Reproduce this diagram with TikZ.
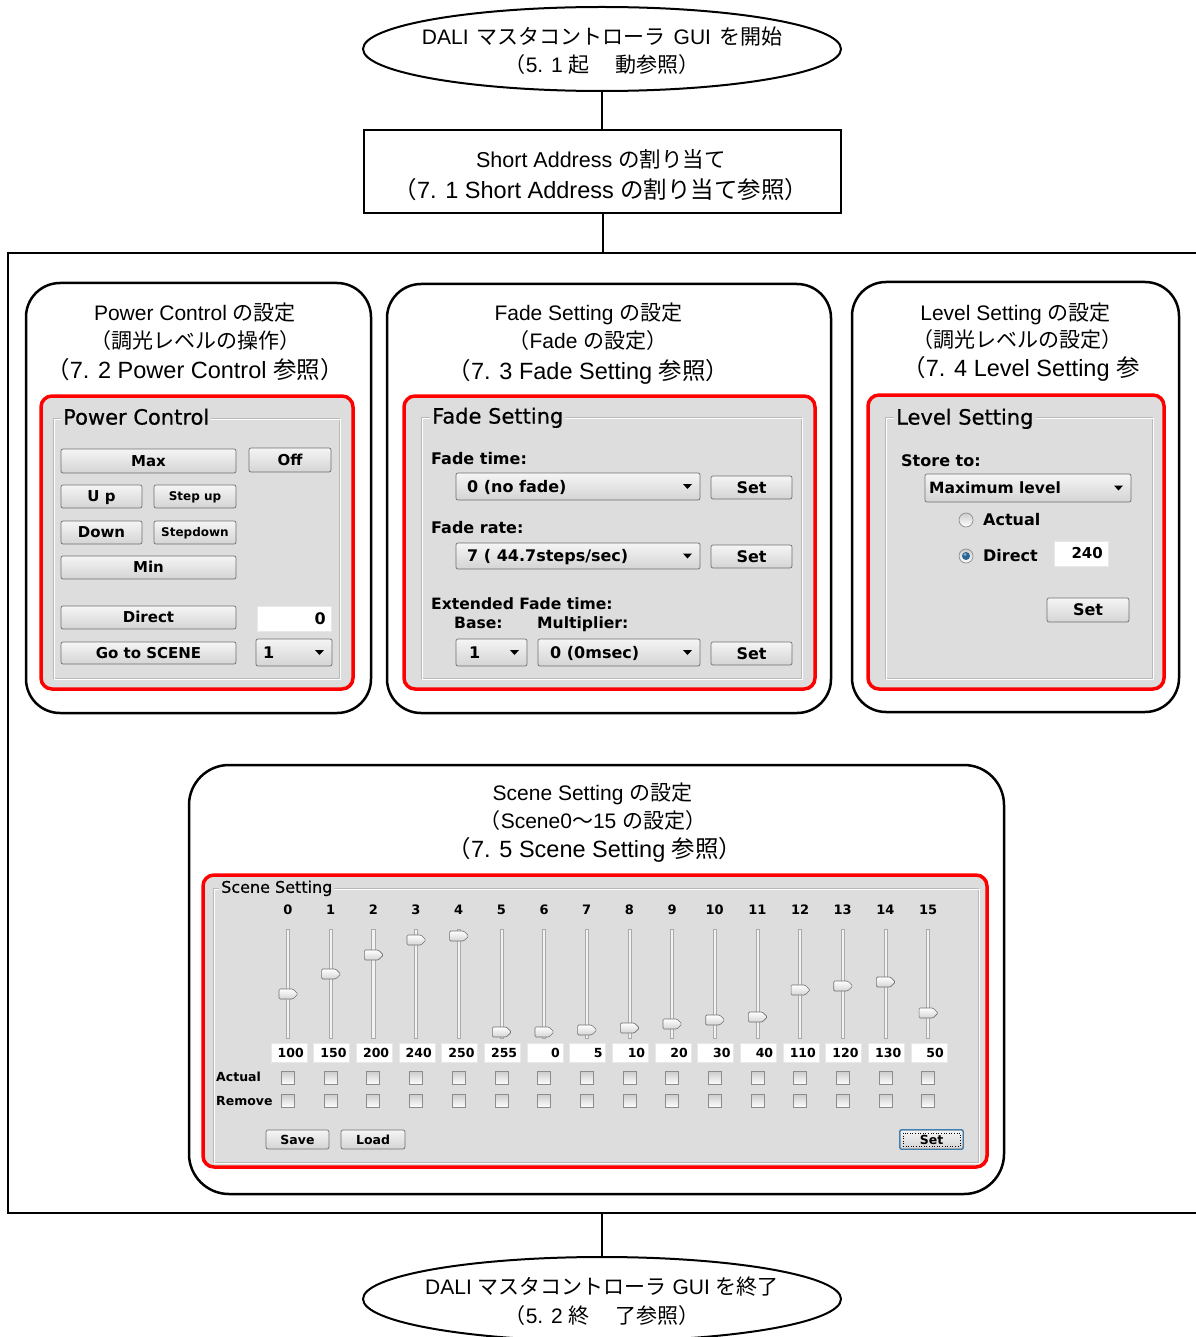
\documentclass[tikz,border=0pt]{standalone}
\usepackage{fontspec}
\setmainfont{Liberation Sans}
\newfontfamily\jpf{Noto Sans CJK JP}
\newfontfamily\uif{DejaVu Sans}
\newfontfamily\uitf{DejaVu Sans}[FakeBold=0.6]
\usetikzlibrary{shapes.geometric}
\newcommand\J[1]{{\jpf #1}}
\definecolor{uigray}{RGB}{221,221,221}
\definecolor{btnedge}{RGB}{112,112,112}
\definecolor{btntop}{RGB}{245,245,245}
\definecolor{btnbot}{RGB}{212,212,212}
\definecolor{framedark}{RGB}{185,185,185}
\definecolor{focusblue}{RGB}{60,127,177}
\definecolor{radioblue}{RGB}{40,100,150}
\definecolor{trackedge}{RGB}{170,170,170}
\definecolor{trackfill}{RGB}{242,242,242}
\definecolor{checkedge}{RGB}{140,140,140}
\definecolor{checktop}{RGB}{205,205,205}
\definecolor{fieldedge}{RGB}{232,232,232}
\tikzset{
  flow/.style={draw=black, line width=2pt},
  termnode/.style={ellipse, draw, line width=2pt, minimum width=478pt, minimum height=84pt, inner sep=0pt},
  procnode/.style={rectangle, draw, line width=2pt, minimum width=477pt, minimum height=83pt, inner sep=0pt},
  mainframe/.style={rectangle, draw, line width=2pt, inner sep=0pt},
  panelbox/.style={rectangle, draw, line width=2.5pt, rounded corners=34pt, inner sep=0pt},
  redbox/.style={rectangle, draw=red, line width=3.5pt, fill=uigray, rounded corners=11pt, inner sep=0pt},
  uibtn/.style={rectangle, draw=btnedge, line width=0.7pt, top color=btntop, bottom color=btnbot, rounded corners=2pt, inner sep=0pt},
  uicombo/.style={uibtn},
  uifield/.style={rectangle, fill=white, draw=fieldedge, line width=0.5pt, inner sep=0pt},
  uicheck/.style={rectangle, draw=checkedge, line width=0.7pt, top color=checktop, bottom color=white, minimum size=13pt, inner sep=0pt},
  uiradio/.style={circle, draw=checkedge, line width=0.7pt, top color=checktop, bottom color=white, minimum size=14pt, inner sep=0pt},
  uitrack/.style={draw=trackedge, fill=trackfill, line width=0.5pt},
  uithumb/.style={draw=btnedge, line width=0.6pt, top color=white, bottom color=btnbot, rounded corners=1.2pt},
}
% title text: name x y size text
\newcommand\ttl[5]{%
  \pgfmathsetlengthmacro\uith{0.72*#4pt}%
  \node[inner sep=0pt, text height=\uith, text depth=0pt, font=\fontsize{#4}{#4}\selectfont] (#1) at ({#2},{#3}) {#5};}
% ui bold label: name x y size anchor text
\newcommand\uiLabel[6]{%
  \pgfmathsetlengthmacro\uith{0.72*#4pt}%
  \node[inner sep=0pt, text height=\uith, text depth=0pt, anchor=#5, font=\uif\bfseries\fontsize{#4}{#4}\selectfont] (#1) at ({#2},{#3}) {#6};}
% group title: name x y size text
\newcommand\uiTitle[5]{%
  \pgfmathsetlengthmacro\uith{0.72*#4pt}%
  \node[inner xsep=2pt, inner ysep=0pt, fill=uigray, text height=\uith, text depth=0pt, anchor=west, font=\uitf\fontsize{#4}{#4}\selectfont] (#1) at ({#2},{#3}) {#5};}
% button: name x1 y1 x2 y2 size text
\newcommand\uiButton[7]{%
  \pgfmathsetlengthmacro\uith{0.72*#6pt}%
  \pgfmathsetlengthmacro\uiw{(#4-#2)*1pt}%
  \pgfmathsetlengthmacro\uih{(#5-#3)*1pt}%
  \node[uibtn, minimum width=\uiw, minimum height=\uih, text height=\uith, text depth=0pt, font=\uif\bfseries\fontsize{#6}{#6}\selectfont] (#1) at ({(#2+#4)/2},{(#3+#5)/2}) {#7};}
% combo: name x1 y1 x2 y2 size text offset
\newcommand\uiCombo[8]{%
  \pgfmathsetlengthmacro\uiw{(#4-#2)*1pt}%
  \pgfmathsetlengthmacro\uih{(#5-#3)*1pt}%
  \node[uicombo, minimum width=\uiw, minimum height=\uih] (#1) at ({(#2+#4)/2},{(#3+#5)/2}) {};%
  \uiLabel{#1t}{#2+#8}{(#3+#5)/2}{#6}{west}{#7}%
  \fill ({#4-17},{(#3+#5)/2-2.5}) -- ({#4-8},{(#3+#5)/2-2.5}) -- ({#4-12.5},{(#3+#5)/2+2.5}) -- cycle;}
% field: name x1 y1 x2 y2 size text
\newcommand\uiField[7]{%
  \pgfmathsetlengthmacro\uiw{(#4-#2)*1pt}%
  \pgfmathsetlengthmacro\uih{(#5-#3)*1pt}%
  \node[uifield, minimum width=\uiw, minimum height=\uih] (#1) at ({(#2+#4)/2},{(#3+#5)/2}) {};%
  \uiLabel{#1t}{#4-5}{(#3+#5)/2}{#6}{east}{#7}}
% group frame
\newcommand\uiFrame[4]{%
  \draw[framedark, line width=0.8pt] (#1,#2) rectangle (#3,#4);
  \draw[white, line width=0.8pt] ({#1+1},{#2+1}) rectangle ({#3+1},{#4+1});}
\begin{document}
\begin{tikzpicture}[x=1pt,y=-1pt]
\useasboundingbox (0,0) rectangle (1195,1337);
\fill[white] (0,0) rectangle (1195,1337);

% ---------- flow ----------
\node[termnode] (start) at (602,49) {};
\ttl{st1}{602}{37}{21}{DALI\hspace{8pt}\J{マスタコントローラ}\hspace{8pt}GUI\hspace{8pt}\J{を開始}}
\ttl{st2}{602}{65}{21}{\J{（}5. 1 \J{起　 動参照）}}

\node[procnode] (sa) at (602.5,171.5) {};
\ttl{sa1}{601}{160}{21.5}{Short Address \J{の割り当て}}
\ttl{sa2}{601}{190}{23.5}{\J{（}7. 1 Short Address \J{の割り当て参照）}}

\node[mainframe, minimum width=1202pt, minimum height=960pt] (mainbox) at (609,733) {};

\node[termnode] (endn) at (602,1299) {};
\ttl{en1}{602}{1287}{21}{DALI \J{マスタコントローラ} GUI \J{を終了}}
\ttl{en2}{602}{1316}{21}{\J{（}5. 2 \J{終　 了参照）}}

\draw[flow] (start.south) -- (start.south |- sa.north);
\draw[flow] (sa.south) -- (sa.south |- mainbox.north);
\draw[flow] (endn.north |- mainbox.south) -- (endn.north);

% ---------- Power Control ----------
\node[panelbox, minimum width=345pt, minimum height=430pt] (pcp) at (198.5,498) {};
\ttl{pct1}{195}{313}{21}{Power Control \J{の設定}}
\ttl{pct2}{195}{341}{21}{\J{（調光レベルの操作）}}
\ttl{pct3}{195}{370}{23.5}{\J{（}7. 2 Power Control \J{参照）}}
\node[redbox, minimum width=312pt, minimum height=293pt] (pcr) at (197,542.5) {};
\uiFrame{53}{418}{339}{678}
\uiTitle{pctitle}{61}{417}{21}{Power Control}
\uiButton{bmax}{61}{449}{236}{473}{15}{Max}
\uiButton{boff}{249}{448}{331}{472}{15}{Off}
\uiButton{bup}{61}{485}{142}{508}{15}{U p}
\uiButton{bsup}{154}{485}{236}{508}{12}{Step up}
\uiButton{bdown}{61}{521}{142}{544}{15}{Down}
\uiButton{bsdown}{154}{521}{236}{544}{12}{Stepdown}
\uiButton{bmin}{61}{556}{236}{579}{15}{Min}
\uiButton{bdirect}{61}{606}{236}{629}{15}{Direct}
\uiField{fdirect}{257}{606}{331}{631}{16}{0}
\uiButton{bgo}{61}{642}{236}{664}{15}{Go to SCENE}
\uiCombo{cgo}{256}{639}{332}{666}{16}{1}{7}

% ---------- Fade Setting ----------
\node[panelbox, minimum width=444pt, minimum height=429pt] (fsp) at (609,498.5) {};
\ttl{fst1}{588.5}{313}{21}{Fade Setting \J{の設定}}
\ttl{fst2}{588}{341}{21}{\J{（}Fade \J{の設定）}}
\ttl{fst3}{588.5}{371}{23.5}{\J{（}7. 3 Fade Setting \J{参照）}}
\node[redbox, minimum width=411pt, minimum height=293pt] (fsr) at (609.5,542.5) {};
\uiFrame{421}{417}{801}{678}
\uiTitle{fstitle}{430}{416}{21}{Fade Setting}
\uiLabel{lft}{431}{459}{16}{west}{Fade time:}
\uiCombo{cft}{456}{473}{700}{500}{16}{0 (no fade)}{11}
\uiButton{bft}{711}{476}{792}{499}{16}{Set}
\uiLabel{lfr}{431}{528}{16}{west}{Fade rate:}
\uiCombo{cfr}{456}{543}{700}{569}{16}{7 ( 44.7steps/sec)}{11}
\uiButton{bfr}{711}{545}{792}{568}{16}{Set}
\uiLabel{lext}{431}{604}{15.6}{west}{Extended Fade time:}
\uiLabel{lbase}{454}{623}{15.6}{west}{Base:}
\uiLabel{lmul}{537}{623}{15.6}{west}{Multiplier:}
\uiCombo{cbase}{456}{639}{527}{666}{16}{1}{13}
\uiCombo{cmul}{538}{639}{700}{666}{16}{0 (0msec)}{12}
\uiButton{bext}{711}{642}{792}{665}{16}{Set}

% ---------- Level Setting ----------
\node[panelbox, minimum width=327pt, minimum height=430pt] (lsp) at (1015.5,497) {};
\ttl{lst1}{1015.5}{313}{21}{Level Setting \J{の設定}}
\ttl{lst2}{1017}{340}{21}{\J{（調光レベルの設定）}}
\ttl{lst3}{1021}{368}{23.5}{\J{（}7. 4 Level Setting \J{参}}
\node[redbox, minimum width=296pt, minimum height=294pt] (lsr) at (1016,542) {};
\uiFrame{885}{417}{1152}{678}
\uiTitle{lstitle}{894}{417}{21}{Level Setting}
\uiLabel{lstore}{901}{461}{16}{west}{Store to:}
\uiCombo{cst}{925}{474}{1131}{502}{15.5}{Maximum level}{4}
\node[uiradio] (ra) at (966,520) {};
\uiLabel{lra}{983}{520}{16}{west}{Actual}
\node[uiradio] (rd) at (966,556) {};
\fill[radioblue] (rd.center) circle (4pt);
\fill[white, opacity=0.5] (965,554.5) circle (1.5pt);
\uiLabel{lrd}{983}{556}{16}{west}{Direct}
\uiField{f240}{1054}{541}{1108}{566}{15}{240}
\uiButton{blv}{1047}{598}{1129}{622}{16}{Set}

% ---------- Scene Setting ----------
\node[panelbox, rounded corners=40pt, minimum width=815pt, minimum height=429pt] (ssp) at (596.5,979.5) {};
\ttl{sst1}{592.5}{793}{21}{Scene Setting \J{の設定}}
\ttl{sst2}{593}{821}{21}{\J{（}Scene0\J{～}15 \J{の設定）}}
\ttl{sst3}{595}{849}{23.5}{\J{（}7. 5 Scene Setting \J{参照）}}
\node[redbox, minimum width=784pt, minimum height=292pt] (ssr) at (595,1021) {};
\uiFrame{213}{888}{978}{1162}
\uiTitle{sstitle}{219}{887}{16}{Scene Setting}
\foreach \i/\ty/\v in {0/994/100, 1/974/150, 2/955/200, 3/940/240, 4/936/250, 5/1032/255, 6/1032/0, 7/1030/5, 8/1028/10, 9/1024/20, 10/1020/30, 11/1017/40, 12/990/110, 13/986/120, 14/982/130, 15/1013/50}{
  \pgfmathsetmacro\sx{288+42.67*\i}
  \uiLabel{num\i}{\sx}{910}{13}{center}{\i}
  \draw[uitrack] ({\sx-1.6},929) rectangle ({\sx+1.6},1038);
  \draw[uithumb] ({\sx-9},{\ty-5}) -- ({\sx+5},{\ty-5}) -- ({\sx+10},\ty) -- ({\sx+5},{\ty+5}) -- ({\sx-9},{\ty+5}) -- cycle;
  \node[uifield, minimum width=36pt, minimum height=19pt] (vb\i) at ({\sx+1},1052.5) {};
  \uiLabel{vt\i}{\sx+16}{1052.5}{12.5}{east}{\v}
  \node[uicheck] (ca\i) at (\sx,1078) {};
  \node[uicheck] (cr\i) at (\sx,1101) {};
}
\uiLabel{lact}{216}{1077}{12.5}{west}{Actual}
\uiLabel{lrem}{216}{1101}{12.5}{west}{Remove}
\uiButton{bsave}{266}{1130}{329}{1149}{12.5}{Save}
\uiButton{bload}{341}{1130}{405}{1149}{12.5}{Load}
\uiButton{bsset}{900}{1130}{963}{1149}{12.5}{Set}
\draw[focusblue, line width=1.2pt, rounded corners=2pt] (bsset.north west) rectangle (bsset.south east);
\draw[black, dotted, line width=0.6pt] (903,1133) rectangle (960,1146);
\end{tikzpicture}
\end{document}
